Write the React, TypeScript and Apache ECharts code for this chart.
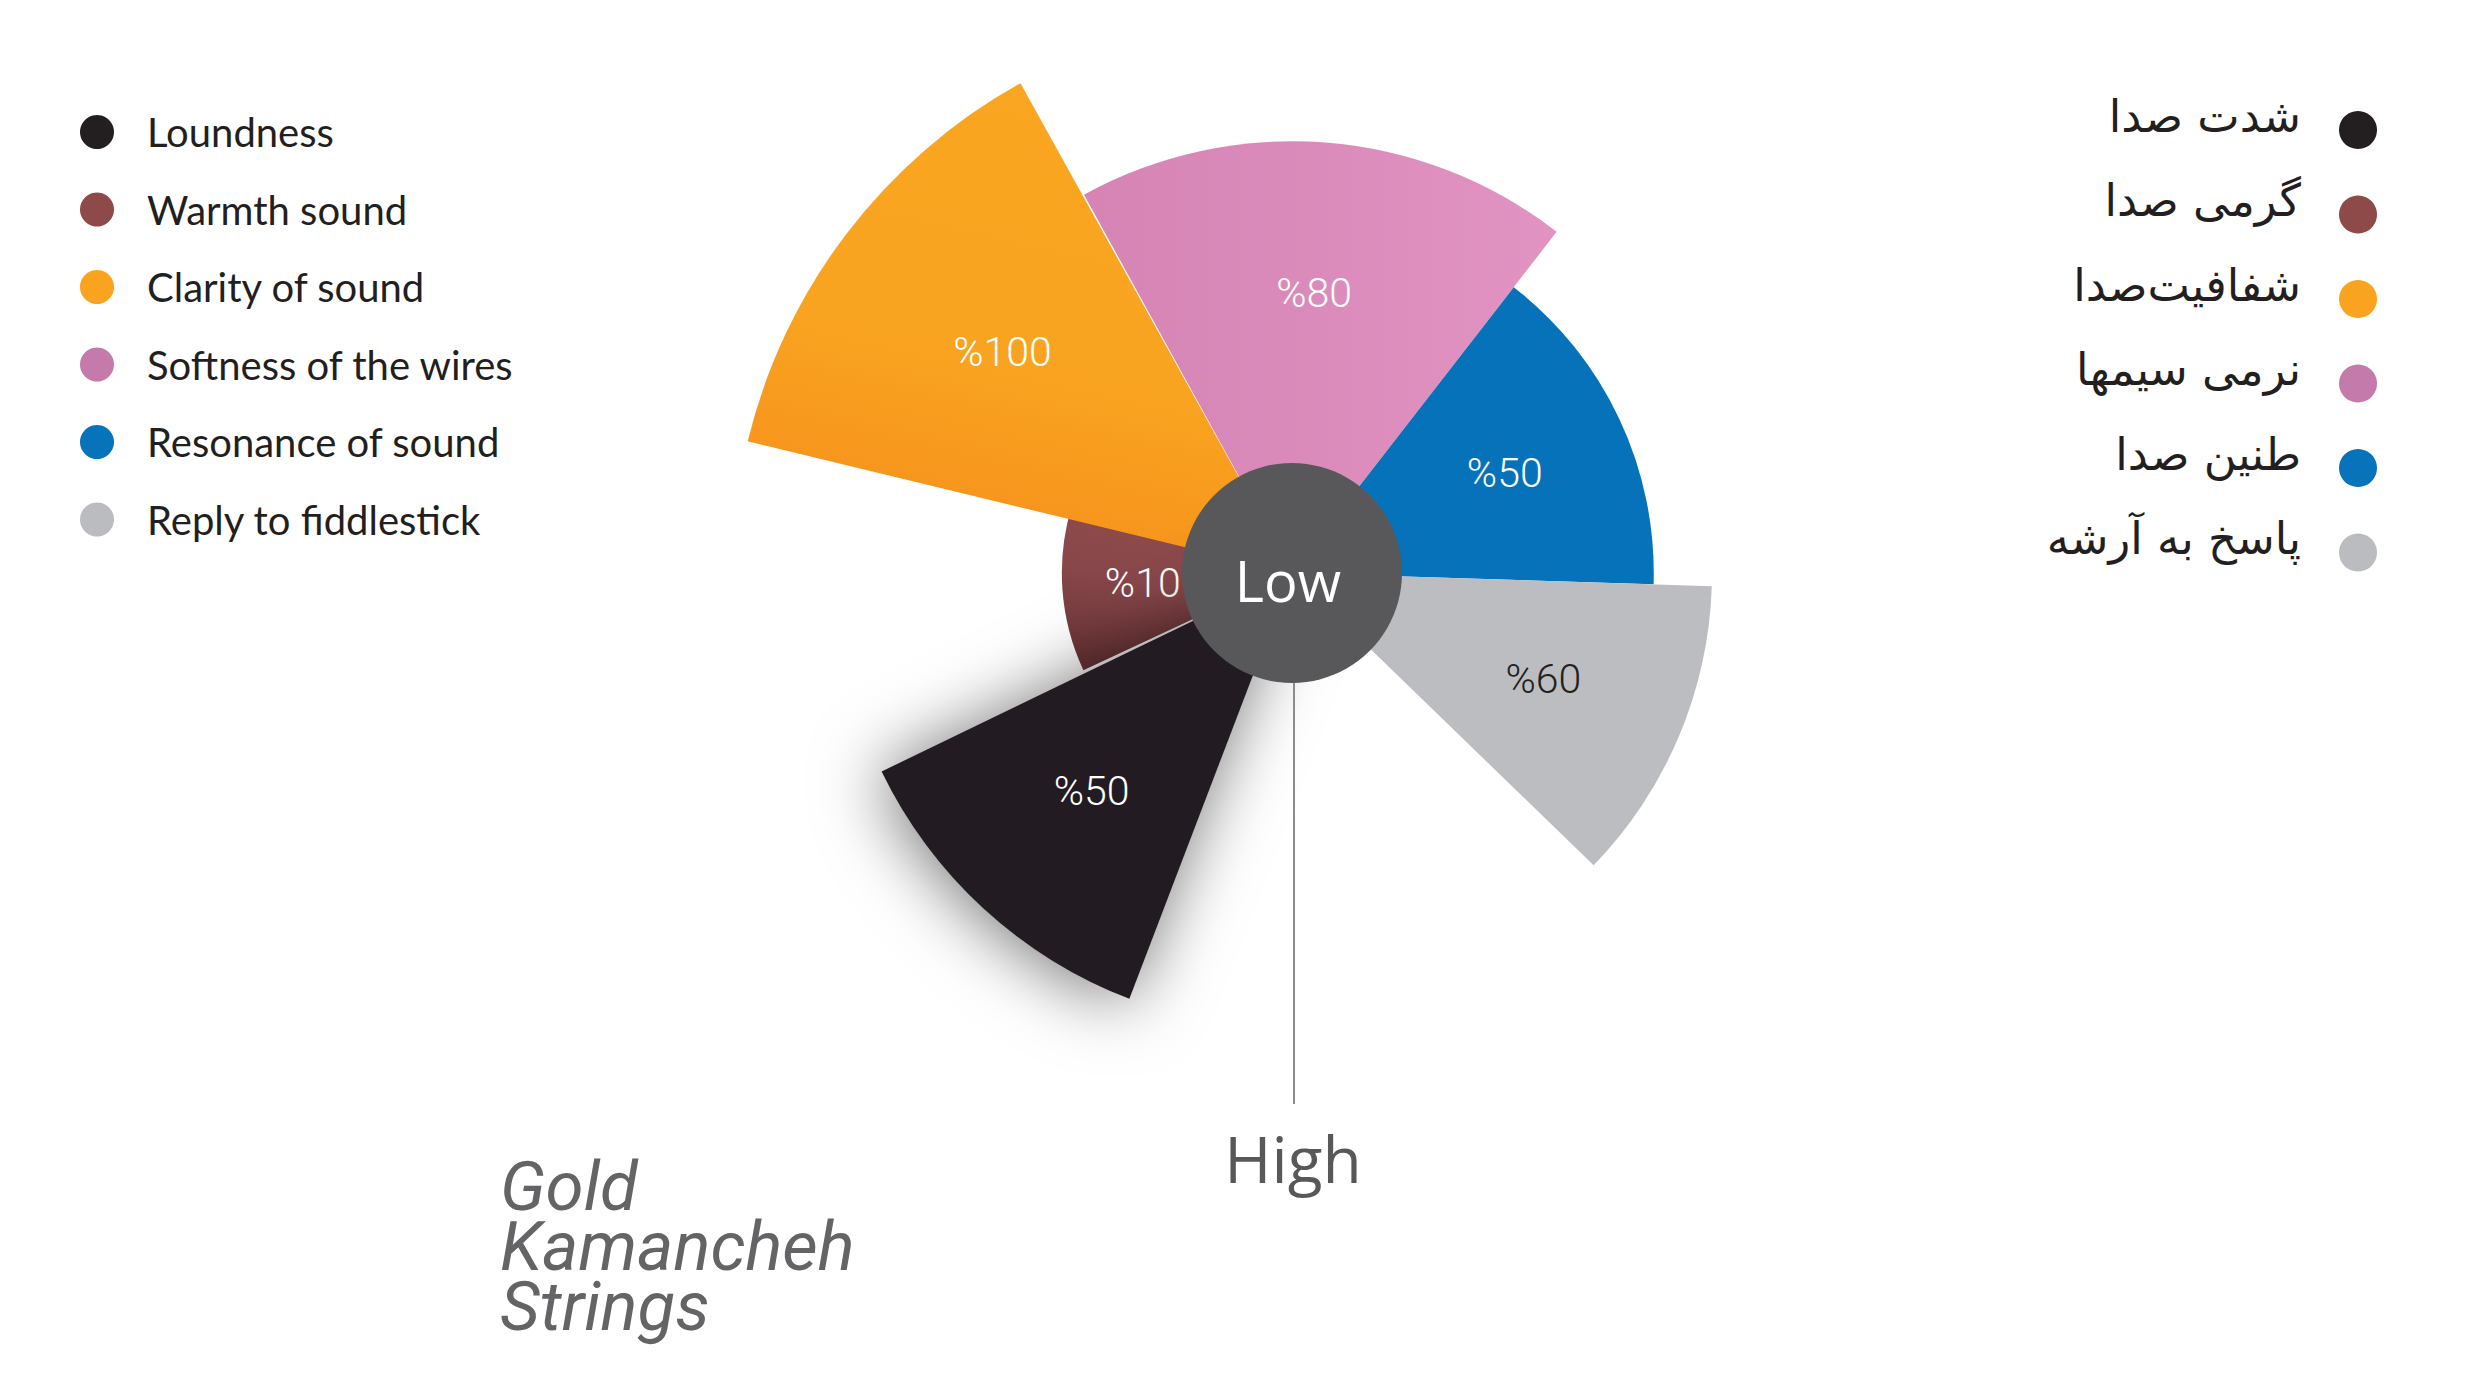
import React, { useEffect, useRef } from 'react';
import * as echarts from 'echarts';

// ---- data ----
const categories = [
  'Loundness',
  'Warmth sound',
  'Clarity of sound',
  'Softness of the wires',
  'Resonance of sound',
  'Reply to fiddlestick',
];
const persianNames = ['شدت صدا', 'گرمی صدا', 'شفافیت‌صدا', 'نرمی سیمها', 'طنین صدا', 'پاسخ به آرشه'];
const percentValues = [50, 10, 100, 80, 50, 60];
// radial reach of each petal on the Low (0) → High (100) radius scale
const reachValues = [81.4, 41.1, 100, 77.1, 64.6, 75.0];
// angular extent of each petal, degrees counter-clockwise from east
const angleFrom = [205.8, 163.0, 119.0, 52.2, -1.8, -44.1];
const angleTo = [249.1, 205.0, 166.4, 118.8, 52.2, -1.8];

// ---- styles ----
const legendColors = ['#231F20', '#8E4A49', '#F9A31E', '#C47BAC', '#0673BA', '#BBBCBF'];
const labelColors = ['#FFFFFF', '#FFFFFF', '#FFFFFF', '#FFFFFF', '#FFFFFF', '#231F20'];
const seriesZ = [4, 2, 3, 2, 2, 2];
const sectorFills: any[] = [
  '#231F20',
  {
    type: 'linear', x: 0.6, y: 0, x2: 0.3, y2: 1,
    colorStops: [
      { offset: 0, color: '#934C4B' },
      { offset: 0.5, color: '#88474A' },
      { offset: 1, color: '#6A3436' },
    ],
  },
  {
    type: 'linear', x: 0.6, y: 0, x2: 0.35, y2: 1,
    colorStops: [
      { offset: 0, color: '#F9A621' },
      { offset: 0.55, color: '#F9A420' },
      { offset: 1, color: '#F68E1B' },
    ],
  },
  {
    type: 'linear', x: 0, y: 0, x2: 1, y2: 0,
    colorStops: [
      { offset: 0, color: '#D584B4' },
      { offset: 1, color: '#E193C2' },
    ],
  },
  '#0572B9',
  '#BCBDC0',
];

const CENTER: [number, number] = [1292, 573];
const LABEL_FRACTION = 0.65;

function buildOption(): any {
  const series = categories.map((name, i) => ({
    type: 'custom',
    name,
    coordinateSystem: 'polar',
    z: seriesZ[i],
    itemStyle: { color: legendColors[i] },
    dimensions: ['reach', 'from', 'to', 'pct'],
    encode: { radius: 0, angle: 1 },
    data: [[reachValues[i], angleFrom[i], angleTo[i], percentValues[i]]],
    renderItem: (params: any, api: any) => {
      const cs = params.coordSys;
      const cx = cs.cx;
      const cy = cs.cy;
      const reach = api.value(0);
      const a1 = api.value(1);
      const a2 = api.value(2);
      const pct = api.value(3);
      const p1 = api.coord([reach, a1]);
      const p2 = api.coord([reach, a2]);
      const r = Math.hypot(p1[0] - cx, p1[1] - cy);
      const s = Math.atan2(p2[1] - cy, p2[0] - cx);
      let e = Math.atan2(p1[1] - cy, p1[0] - cx);
      while (e < s) e += Math.PI * 2;
      const lp = api.coord([reach * LABEL_FRACTION, (a1 + a2) / 2]);
      const isShadowed = i === 0;
      return {
        type: 'group',
        children: [
          {
            type: 'sector',
            shape: { cx, cy, r0: 0, r, startAngle: s, endAngle: e, clockwise: true },
            style: Object.assign(
              { fill: sectorFills[i] },
              isShadowed
                ? { shadowBlur: 70, shadowColor: 'rgba(0,0,0,0.55)', shadowOffsetX: -4, shadowOffsetY: 4 }
                : {}
            ),
          },
          {
            type: 'text',
            x: lp[0],
            y: lp[1],
            style: {
              text: '%' + pct,
              fill: labelColors[i],
              fontSize: 41,
              fontWeight: 300,
              fontFamily: 'Roboto, "Noto Sans", sans-serif',
              align: 'center',
              verticalAlign: 'middle',
            },
          },
        ],
      };
    },
  }));

  return {
    animation: false,
    backgroundColor: '#FFFFFF',
    title: {
      text: 'Gold\nKamancheh\nStrings',
      left: 500,
      top: 1156,
      padding: 0,
      textStyle: {
        fontFamily: 'Roboto, "Noto Sans", sans-serif',
        fontStyle: 'italic',
        fontWeight: 400,
        fontSize: 69,
        lineHeight: 60,
        color: '#646466',
      },
    },
    polar: { center: CENTER, radius: 560 },
    angleAxis: { type: 'value', min: 0, max: 360, startAngle: 0, clockwise: false, show: false },
    radiusAxis: { type: 'value', min: 0, max: 100, show: false },
    legend: [
      {
        orient: 'vertical',
        left: 80,
        top: 112,
        padding: 0,
        icon: 'circle',
        itemWidth: 34,
        itemHeight: 34,
        itemGap: 37.5,
        selectedMode: false,
        data: categories.map((n, i) => ({ name: n, itemStyle: { color: legendColors[i] } })),
        textStyle: {
          fontFamily: 'Lato, "Open Sans", sans-serif',
          fontSize: 40,
          color: '#231F20',
          padding: [0, 0, 0, 28],
        },
      },
      {
        orient: 'vertical',
        right: 103,
        top: 93.5,
        padding: 0,
        align: 'right',
        icon: 'circle',
        itemWidth: 38,
        itemHeight: 38,
        itemGap: 11.5,
        selectedMode: false,
        data: categories.map((n, i) => ({ name: n, itemStyle: { color: legendColors[i] } })),
        formatter: (name: string) => '{fa|' + persianNames[categories.indexOf(name)] + '}',
        textStyle: {
          fontFamily: '"DejaVu Sans", sans-serif',
          fontSize: 45,
          color: '#231F20',
          rich: {
            fa: {
              fontFamily: '"DejaVu Sans", sans-serif',
              fontSize: 45,
              lineHeight: 45,
              color: '#231F20',
              padding: [0, 33, 28, 0],
            },
          },
        },
      },
    ],
    graphic: {
      elements: [
        {
          type: 'line',
          z: 5,
          shape: { x1: 1294, y1: 683, x2: 1294, y2: 1104 },
          style: { stroke: '#8C8C8C', lineWidth: 2 },
        },
        {
          type: 'circle',
          z: 10,
          shape: { cx: CENTER[0], cy: CENTER[1], r: 110 },
          style: { fill: '#58585A' },
        },
        {
          type: 'text',
          z: 11,
          x: 1288,
          y: 580,
          style: {
            text: 'Low',
            fill: '#FFFFFF',
            fontSize: 56,
            fontFamily: '"Open Sans", sans-serif',
            align: 'center',
            verticalAlign: 'middle',
          },
        },
        {
          type: 'text',
          z: 11,
          x: 1293,
          y: 1158,
          style: {
            text: 'High',
            fill: '#58585A',
            fontSize: 64,
            fontFamily: '"Open Sans", sans-serif',
            align: 'center',
            verticalAlign: 'middle',
          },
        },
      ],
    },
    series,
  };
}

export default function App() {
  const ref = useRef<HTMLDivElement | null>(null);
  useEffect(() => {
    if (!ref.current) return;
    const chart = echarts.init(ref.current, undefined, { renderer: 'svg' });
    chart.setOption(buildOption());
    return () => chart.dispose();
  }, []);
  return (
    <div
      ref={ref}
      style={{ position: 'fixed', left: 0, top: 0, width: 2480, height: 1378, background: '#FFFFFF' }}
    />
  );
}
